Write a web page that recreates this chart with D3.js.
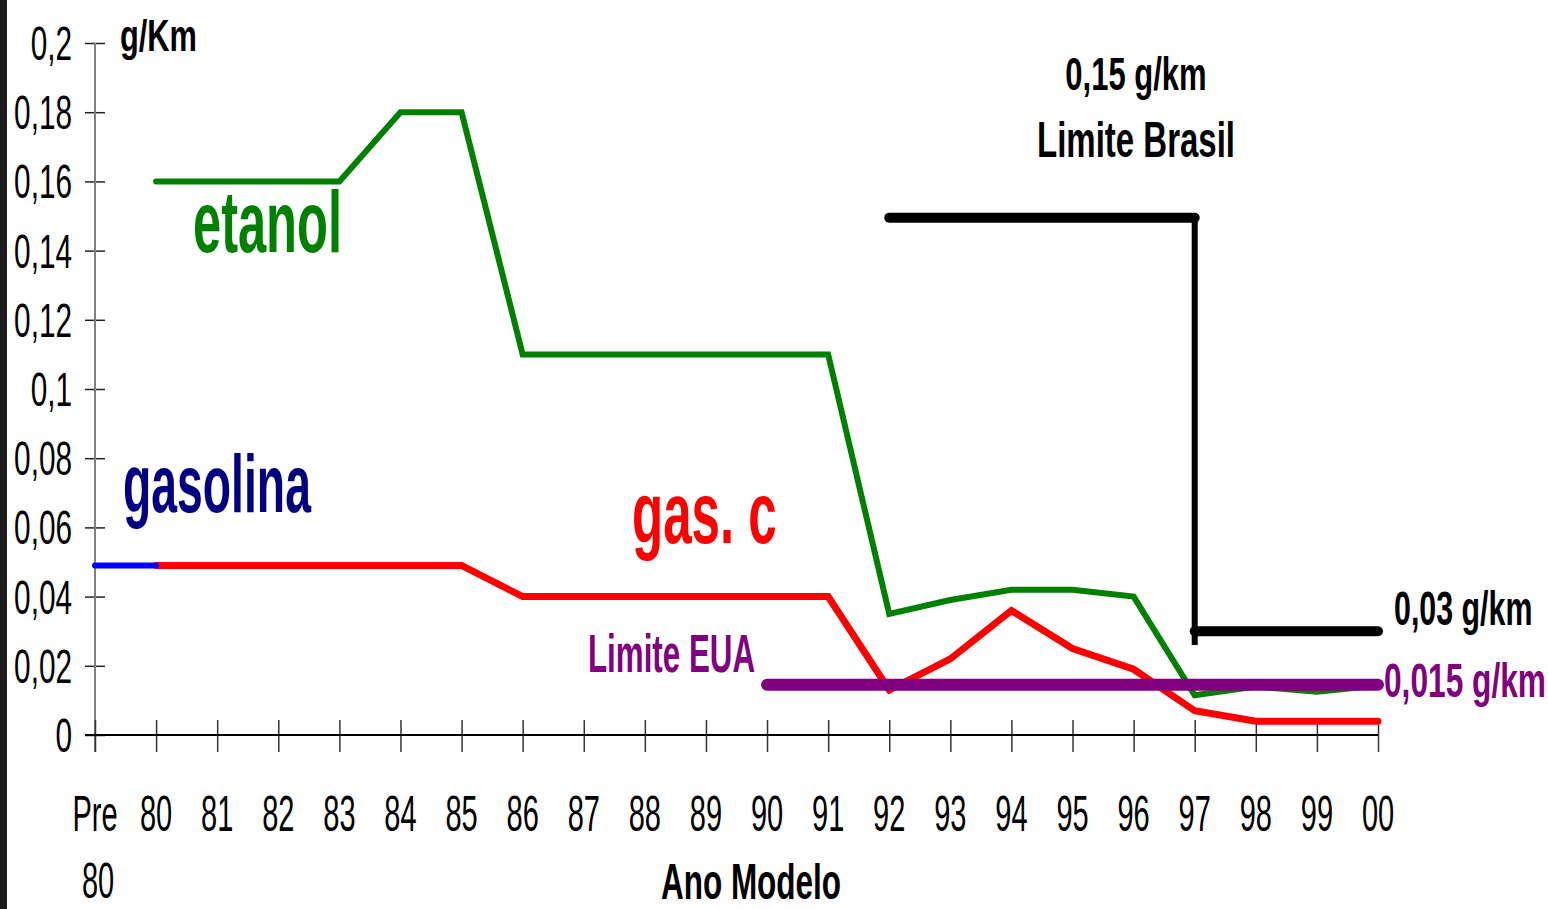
<!DOCTYPE html>
<html>
<head>
<meta charset="utf-8">
<script src="https://cdn.jsdelivr.net/npm/d3@7"></script>
<style>
  html, body { margin: 0; padding: 0; background: #fff; }
  svg { display: block; }
  text { font-family: "Liberation Sans", Arial, sans-serif; }
</style>
</head>
<body>
<div id="chart"></div>
<script>
// ---------- data ----------
const categories = ["Pre 80","80","81","82","83","84","85","86","87","88","89","90","91","92","93","94","95","96","97","98","99","00"];
const yTicks = [0, 0.02, 0.04, 0.06, 0.08, 0.10, 0.12, 0.14, 0.16, 0.18, 0.20];

const gasolinaYears = ["Pre 80","80"];
const gasolinaValues = [0.049, 0.049];

const modelYears = ["80","81","82","83","84","85","86","87","88","89","90","91","92","93","94","95","96","97","98","99","00"];
const etanolValues = [0.16,0.16,0.16,0.16,0.18,0.18,0.11,0.11,0.11,0.11,0.11,0.11,0.035,0.039,0.042,0.042,0.040,0.0115,0.014,0.0125,0.0143];
const gasCValues   = [0.049,0.049,0.049,0.049,0.049,0.049,0.04,0.04,0.04,0.04,0.04,0.04,0.013,0.022,0.036,0.025,0.019,0.007,0.004,0.004,0.004];

const euaYears = ["90","91","92","93","94","95","96","97","98","99","00"];
const euaLimit = 0.0145;

const brasilYears1 = ["92","93","94","95","96","97"];
const brasilLimit1 = 0.1495;
const brasilYears2 = ["97","98","99","00"];
const brasilLimit2 = 0.03;
const brasilStepBottom = 0.026;

// ---------- layout ----------
const W = 1548, H = 909;
const svg = d3.select("#chart").append("svg").attr("width", W).attr("height", H);

// dark strip on the left edge
svg.append("rect").attr("x", 0).attr("y", 0).attr("width", 7).attr("height", H).attr("fill", "#1c1c1c");

const x = d3.scalePoint().domain(categories).range([95, 1378]);
const y = d3.scaleLinear().domain([0, 0.2]).range([735, 43]);

function label(text, px, py, size, sx, anchor, color, bold) {
  return svg.append("text")
    .attr("transform", `translate(${px},${py}) scale(${sx},1)`)
    .attr("text-anchor", anchor)
    .attr("font-size", size)
    .attr("font-weight", bold ? "bold" : "normal")
    .attr("fill", color)
    .text(text);
}

// ---------- axes ----------
const fmt = d => d === 0 ? "0" : String(+d.toFixed(2)).replace(".", ",");

const yAxis = svg.append("g").attr("transform", "translate(95,0)")
  .call(d3.axisLeft(y).tickValues(yTicks).tickSize(10).tickFormat(""));
yAxis.select(".domain").remove();
yAxis.selectAll(".tick line").attr("x1", 10).attr("x2", -10).attr("stroke", "#222").attr("stroke-width", 1.5);
svg.append("line").attr("x1", 95).attr("x2", 95).attr("y1", y(0.2)).attr("y2", 752)
  .attr("stroke", "#808080").attr("stroke-width", 2);

yTicks.forEach(v => label(fmt(v), 72, y(v) + 17, 48, 0.62, "end", "#000", false));

const xAxis = svg.append("g").attr("transform", "translate(0,735)")
  .call(d3.axisBottom(x).tickSize(17).tickFormat(""));
xAxis.select(".domain").remove();
xAxis.selectAll(".tick line").attr("y1", -15).attr("y2", 17).attr("stroke", "#333").attr("stroke-width", 1.5);
svg.append("line").attr("x1", 85).attr("x2", x("00")).attr("y1", 735).attr("y2", 735)
  .attr("stroke", "#000").attr("stroke-width", 2);

categories.forEach(c => {
  if (c === "Pre 80") {
    label("Pre", x(c), 831, 50, 0.58, "middle", "#000", false);
    label("80", x(c) + 3, 898, 50, 0.58, "middle", "#000", false);
  } else {
    label(c, x(c), 831, 50, 0.58, "middle", "#000", false);
  }
});

label("Ano Modelo", 751, 899, 50, 0.63, "middle", "#000", true);
label("g/Km", 120, 51, 44, 0.7, "start", "#000", true);

// ---------- series ----------
const line = d3.line().x(d => x(d[0])).y(d => y(d[1]));

svg.append("path").datum(modelYears.map((c, i) => [c, etanolValues[i]]))
  .attr("d", line).attr("fill", "none").attr("stroke", "#008000").attr("stroke-width", 6)
  .attr("stroke-linejoin", "miter").attr("stroke-linecap", "round");

svg.append("path").datum(modelYears.map((c, i) => [c, gasCValues[i]]))
  .attr("d", line).attr("fill", "none").attr("stroke", "#ff0000").attr("stroke-width", 7)
  .attr("stroke-linejoin", "miter").attr("stroke-linecap", "round");

svg.append("path").datum(gasolinaYears.map((c, i) => [c, gasolinaValues[i]]))
  .attr("d", line).attr("fill", "none").attr("stroke", "#0000ff").attr("stroke-width", 6)
  .attr("stroke-linecap", "round");

svg.append("path").datum(euaYears.map(c => [c, euaLimit]))
  .attr("d", line).attr("fill", "none").attr("stroke", "#800080").attr("stroke-width", 12)
  .attr("stroke-linecap", "round");

svg.append("path").datum(brasilYears1.map(c => [c, brasilLimit1]))
  .attr("d", line).attr("fill", "none").attr("stroke", "#000").attr("stroke-width", 10)
  .attr("stroke-linecap", "round");
svg.append("line").attr("x1", x("97")).attr("x2", x("97"))
  .attr("y1", y(brasilLimit1)).attr("y2", y(brasilStepBottom))
  .attr("stroke", "#000").attr("stroke-width", 6);
svg.append("path").datum(brasilYears2.map(c => [c, brasilLimit2]))
  .attr("d", line).attr("fill", "none").attr("stroke", "#000").attr("stroke-width", 10)
  .attr("stroke-linecap", "round");

// ---------- annotations ----------
label("etanol", 193, 252, 88, 0.575, "start", "#008000", true);
label("gasolina", 123, 512, 82, 0.565, "start", "#000080", true);
label("gas. c", 632, 543, 88, 0.58, "start", "#ff0000", true);
label("Limite EUA", 588, 672, 54, 0.58, "start", "#800080", true);
label("0,15 g/km", 1136, 90, 47, 0.66, "middle", "#000", true);
label("Limite Brasil", 1136, 157, 50, 0.66, "middle", "#000", true);
label("0,03 g/km", 1394, 625, 49, 0.62, "start", "#000", true);
label("0,015 g/km", 1384, 697, 48, 0.66, "start", "#800080", true);
</script>
</body>
</html>
